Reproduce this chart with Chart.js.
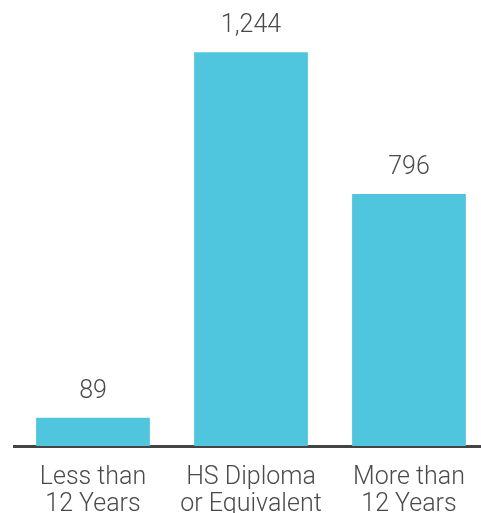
<!DOCTYPE html>
<html>
<head>
<meta charset="utf-8">
<script src="https://cdn.jsdelivr.net/npm/chart.js@4/dist/chart.umd.min.js"></script>
<style>
  html, body { margin: 0; padding: 0; background: #fff; overflow: hidden; }
  #wrap { position: absolute; left: 0; top: 0; width: 488px; height: 513px; overflow: hidden; }
</style>
</head>
<body>
<div id="wrap"><canvas id="c" width="488" height="536"></canvas></div>
<script>
const categories = [["Less than", "12 Years"], ["HS Diploma", "or Equivalent"], ["More than", "12 Years"]];
const counts = [89, 1244, 796];

const FONT = "Roboto, 'Liberation Sans', sans-serif";
const TEXT = "#4a4a4a";

// Writes each bar's value just above its top edge
const valueLabels = {
  id: "valueLabels",
  afterDatasetsDraw(chart) {
    const ctx = chart.ctx;
    const meta = chart.getDatasetMeta(0);
    ctx.save();
    ctx.font = "300 25px " + FONT;
    ctx.fillStyle = TEXT;
    ctx.textAlign = "center";
    ctx.textBaseline = "alphabetic";
    meta.data.forEach((bar, i) => {
      ctx.fillText(counts[i].toLocaleString("en-US"), bar.x, bar.y - 20);
    });
    ctx.restore();
  }
};

new Chart(document.getElementById("c"), {
  type: "bar",
  data: {
    labels: categories,
    datasets: [{
      data: counts,
      backgroundColor: "#50C5DE",
      borderWidth: 0,
      categoryPercentage: 1,
      barPercentage: 0.72
    }]
  },
  options: {
    responsive: false,
    animation: false,
    devicePixelRatio: 1,
    layout: { padding: { left: 14, right: 0, top: 3, bottom: 0 } },
    plugins: { legend: { display: false }, tooltip: { enabled: false } },
    scales: {
      x: {
        grid: { display: false, drawTicks: false },
        border: { display: true, color: "#444", width: 3 },
        ticks: {
          color: TEXT,
          font: { family: FONT, size: 25, weight: 300, lineHeight: "27px" },
          padding: 18,
          maxRotation: 0,
          autoSkip: false
        }
      },
      y: {
        display: false,
        min: 0,
        max: 1400
      }
    }
  },
  plugins: [valueLabels]
});
</script>
</body>
</html>
